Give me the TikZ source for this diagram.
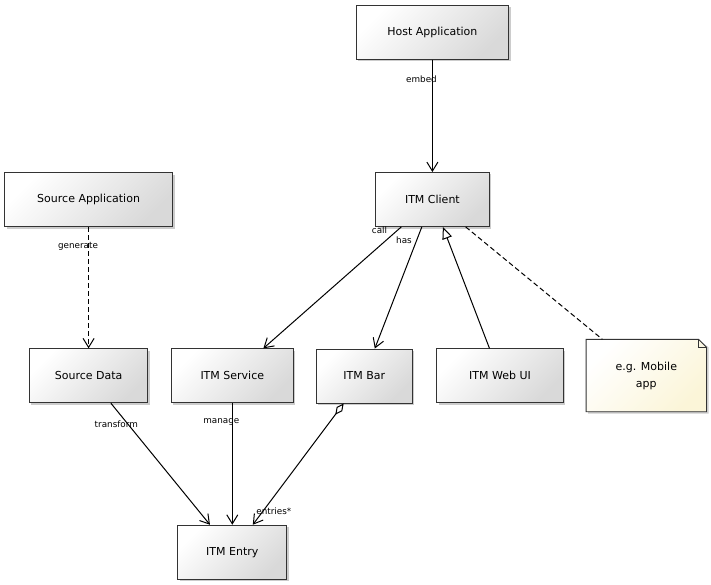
\documentclass[tikz,border=0pt]{standalone}
\usepackage{fontspec}
\setmainfont{DejaVu Sans}
\usepackage{tikz}
\usetikzlibrary{arrows.meta,shadows}
\definecolor{notecream}{RGB}{251,245,216}

\begin{document}
\begin{tikzpicture}[x=1pt,y=-1pt,
    cls/.style={draw=black!80, line width=0.9pt, minimum height=54pt, inner sep=0pt,
      top color=white, bottom color=black!15, shading angle=45,
      general shadow={shadow xshift=2pt, shadow yshift=-2pt, fill=black!20},
      font=\fontsize{11}{13}\selectfont},
    lbl/.style={inner sep=0pt, font=\fontsize{8.8}{10}\selectfont},
    link/.style={line width=1pt},
    uses/.style={-{Straight Barb[length=9pt,width=11pt]}},
    dashline/.style={dash pattern=on 5pt off 3pt},
  ]
      \useasboundingbox (0,0) rectangle (711,585);

      % classes
      \node[cls, minimum width=152.7pt] (host) at (432.4,32.3) {Host Application};
      \node[cls, minimum width=113.3pt] (client) at (432.4,199.5) {ITM Client};
      \node[cls, minimum width=168pt] (srcapp) at (88.6,199.7) {Source Application};
      \node[cls, minimum width=118.4pt] (srcdata) at (88.6,375.8) {Source Data};
      \node[cls, minimum width=122pt] (service) at (232.3,375.8) {ITM Service};
      \node[cls, minimum width=96pt] (bar) at (364.2,376) {ITM Bar};
      \node[cls, minimum width=126.6pt] (webui) at (500,375.8) {ITM Web UI};
      \node[cls, minimum width=109pt] (entry) at (232.3,552.2) {ITM Entry};

      % note
      \node[minimum width=120pt, minimum height=72pt, inner sep=0pt] (note) at (646.3,375.5) {};
      \fill[black!20] ([xshift=2pt,yshift=-2pt]note.north west) -- ([xshift=-6pt,yshift=-2pt]note.north east)
        -- ([xshift=2pt,yshift=-8pt]note.north east) -- ([xshift=2pt,yshift=-2pt]note.south east)
        -- ([xshift=2pt,yshift=-2pt]note.south west) -- cycle;
      \shade[top color=white, bottom color=notecream, shading angle=45, draw=black!80, line width=0.9pt]
        (note.north west) -- ([xshift=-8pt]note.north east) -- ([yshift=-8pt]note.north east)
        -- (note.south east) -- (note.south west) -- cycle;
      \draw[black!80, line width=0.9pt] ([xshift=-8pt]note.north east) -- ([xshift=-8pt,yshift=-8pt]note.north east)
        -- ([yshift=-8pt]note.north east);
      \node[align=center, font=\fontsize{11}{17}\selectfont] (notetext) at (note) {e.g. Mobile\\app};

      % relations
      \draw[link, uses] (host) -- (client);
      \draw[link, uses, dashline] (srcapp) -- (srcdata);
      \draw[link, uses] (client) -- (service);
      \draw[link, uses] (client) -- (bar);
      \draw[link, -{Triangle[open, length=12pt, width=10pt]}] (webui) -- (client);
      \draw[link, dashline] (client) -- (note);
      \draw[link, uses] (srcdata) -- (entry);
      \draw[link, uses] (service) -- (entry);
      \draw[link, {Diamond[open, length=14pt, width=7pt]}-{Straight Barb[length=9pt,width=11pt]}] (bar) -- (entry);

      % labels
      \node[lbl] (embed) at (421.5,79) {embed};
      \node[lbl] (generate) at (78,246.5) {generate};
      \node[lbl] (call) at (379.5,230) {call};
      \node[lbl] (has) at (404,240.7) {has};
      \node[lbl] (transform) at (116.3,424) {transform};
      \node[lbl] (manage) at (221.3,422.3) {manage};
      \node[lbl] (entries) at (273.8,511) {entries*};
    \end{tikzpicture}
\end{document}
